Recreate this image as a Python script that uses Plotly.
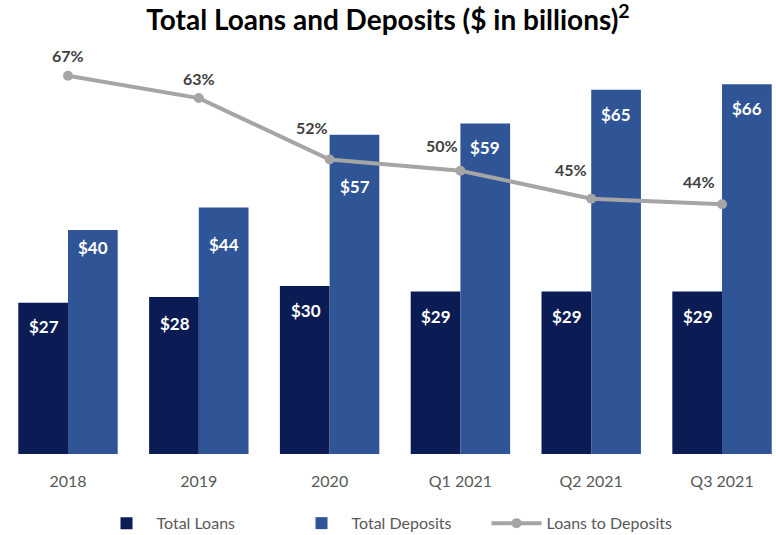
import plotly.graph_objects as go

periods = ["2018", "2019", "2020", "Q1 2021", "Q2 2021", "Q3 2021"]
total_loans = [27, 28, 30, 29, 29, 29]
total_deposits = [40, 44, 57, 59, 65, 66]
loans_to_deposits = [67, 63, 52, 50, 45, 44]

LOAN_COLOR = "#0b1c54"
DEPOSIT_COLOR = "#2f5597"
LINE_COLOR = "#a5a5a5"
FONT = "Lato, Open Sans, sans-serif"

fig = go.Figure()
fig.add_trace(go.Bar(
    name="Total Loans", x=periods, y=total_loans,
    marker=dict(color=LOAN_COLOR, line=dict(width=0)),
))
fig.add_trace(go.Bar(
    name="Total Deposits", x=periods, y=total_deposits,
    marker=dict(color=DEPOSIT_COLOR, line=dict(width=0)),
))
fig.add_trace(go.Scatter(
    name="Loans to Deposits", x=periods, y=loans_to_deposits, yaxis="y2",
    mode="lines+markers",
    line=dict(color=LINE_COLOR, width=4),
    marker=dict(color=LINE_COLOR, size=10),
))

# value labels inside the bars, just under the top edge
# (category positions are given by index so year labels are not read as numbers)
annotations = []
loan_shift = [-24, -26, -25, -25, -25, -25]
dep_shift = [-18, -37, -52, -24, -25, -24]
for i in range(len(periods)):
    annotations.append(dict(
        x=i, y=total_loans[i], xref="x", yref="y", text=f"${total_loans[i]}",
        showarrow=False, xshift=-24, yshift=loan_shift[i],
        font=dict(family=FONT, size=17, color="white", weight="bold"),
    ))
    annotations.append(dict(
        x=i, y=total_deposits[i], xref="x", yref="y", text=f"${total_deposits[i]}",
        showarrow=False, xshift=25, yshift=dep_shift[i],
        font=dict(family=FONT, size=17, color="white", weight="bold"),
    ))

# ratio labels above the line points
pct_offsets = [(0, 20), (0, 20), (-18, 32), (-18, 25), (-20, 29), (-23, 23)]
for i in range(len(periods)):
    dx, dy = pct_offsets[i]
    annotations.append(dict(
        x=i, y=loans_to_deposits[i], xref="x", yref="y2",
        text=f"{loans_to_deposits[i]}%",
        showarrow=False, xshift=dx, yshift=dy,
        font=dict(family=FONT, size=16, color="#404040", weight="bold"),
    ))

fig.update_layout(
    width=776, height=535,
    margin=dict(l=3, r=1, t=45, b=81),
    paper_bgcolor="white", plot_bgcolor="white",
    barmode="group", bargap=0.24, bargroupgap=0,
    title=dict(
        text="Total Loans and Deposits ($ in billions)<sup>2</sup>",
        x=0.5, xanchor="center", y=0.962, yanchor="middle",
        font=dict(family=FONT, size=28, color="#000000", weight="bold"),
    ),
    xaxis=dict(
        type="category", range=[-0.497, 5.405],
        showgrid=False, showline=False, zeroline=False, ticks="",
        ticklabelstandoff=16,
        tickfont=dict(family=FONT, size=16, color="#595959"),
    ),
    yaxis=dict(
        range=[0, 73], visible=False, showgrid=False, zeroline=False,
    ),
    yaxis2=dict(
        range=[-0.7, 72.5], overlaying="y", side="right", visible=False,
        showgrid=False, zeroline=False,
    ),
    legend=dict(
        orientation="h", x=0.5, xanchor="center",
        yref="container", y=0.022, yanchor="middle",
        font=dict(family=FONT, size=16, color="#595959"),
        itemwidth=50, entrywidth=130, traceorder="normal",
    ),
    annotations=annotations,
)

fig.write_html("out.html")
